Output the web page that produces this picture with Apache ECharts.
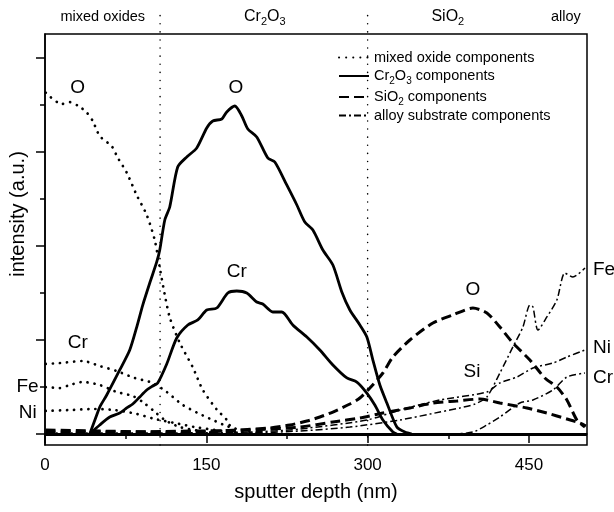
<!DOCTYPE html>
<html><head><meta charset="utf-8">
<script src="https://cdn.jsdelivr.net/npm/echarts@6/dist/echarts.min.js"></script>
<style>html,body{margin:0;padding:0;background:#fff}#c{width:614px;height:512px}</style>
</head><body><div id="c"></div>
<script>
// ---- data (depth in nm, intensity in a.u.) ----
const mixO_x = [0.7,4.4,15.5,23.0,32.3,38.8,44.4,50.9,62.1,67.6,76.0,85.3,94.6,102.1,106.7,111.4,116.0,125.3,137.4,146.7,159.7,169.0,174.6];
const mixO_y = [3.63,3.59,3.51,3.53,3.48,3.42,3.33,3.17,3.06,2.94,2.78,2.54,2.33,2.06,1.77,1.48,1.24,0.97,0.71,0.47,0.26,0.15,0.02];
const mixCr_x = [0.7,13.7,35.1,50.9,66.7,83.4,100.2,113.2,128.1,143.9,156.0,169.0,185.8,199.7];
const mixCr_y = [0.745,0.755,0.777,0.723,0.670,0.596,0.543,0.447,0.309,0.213,0.149,0.085,0.032,0.011];
const mixFe_x = [0.7,13.7,23.0,35.1,50.9,66.7,81.6,90.9,100.2,111.4,125.3,143.9,157.9];
const mixFe_y = [0.500,0.489,0.521,0.553,0.521,0.447,0.404,0.340,0.255,0.149,0.074,0.032,0.011];
const mixNi_x = [0.7,23.0,46.2,64.8,85.3,102.1,120.7,139.3,157.9,176.5,190.4];
const mixNi_y = [0.245,0.255,0.266,0.255,0.213,0.160,0.117,0.074,0.043,0.021,0.011];

const cr2o3O_x = [41.6,48.1,50.9,57.4,69.5,78.8,85.3,90.9,97.4,103.9,106.7,111.4,116.0,123.4,131.8,141.1,150.4,156.0,164.4,169.0,176.5,183.0,188.6,196.9,207.2,213.7,224.8,234.2,241.6,249.1,258.4,267.7,276.0,283.5,292.8,299.3,304.9,311.4,317.9,327.2,334.7,341.1];
const cr2o3O_y = [0,0.202,0.287,0.415,0.681,0.894,1.138,1.372,1.606,1.830,1.957,2.277,2.415,2.840,2.947,3.043,3.255,3.330,3.351,3.426,3.489,3.383,3.245,3.160,2.936,2.894,2.649,2.436,2.255,2.170,1.957,1.798,1.511,1.319,1.160,1.032,0.787,0.521,0.330,0.074,0.021,0];
const cr2o3Cr_x = [41.6,50.9,60.2,69.5,76.0,81.6,88.1,94.6,100.2,104.8,113.2,122.5,132.8,142.1,150.4,159.7,170.0,178.3,187.6,196.9,202.5,211.8,220.2,230.4,243.5,255.6,267.7,280.7,290.0,299.3,306.7,314.2,323.5,327.2];
const cr2o3Cr_y = [0,0.096,0.181,0.223,0.277,0.319,0.394,0.468,0.511,0.543,0.745,1.021,1.160,1.213,1.319,1.340,1.500,1.521,1.500,1.404,1.383,1.298,1.298,1.160,1.032,0.894,0.734,0.596,0.553,0.436,0.309,0.149,0.021,0];

const sio2O_x = [0.7,50.9,97.4,143.9,181.1,209.0,227.7,243.5,255.6,267.7,283.5,292.8,302.1,314.2,323.5,339.3,360.7,379.3,397.9,410.9,423.0,435.1,450.9,464.8,476.0,485.3,494.6,502.1];
const sio2O_y = [0.043,0.032,0.021,0.021,0.043,0.064,0.096,0.138,0.181,0.234,0.319,0.383,0.489,0.649,0.819,1.000,1.181,1.266,1.340,1.287,1.138,0.968,0.787,0.596,0.500,0.362,0.149,0.074];
const sio2Si_x = [0.7,50.9,143.9,190.4,236.9,267.7,292.8,314.2,339.3,360.7,383.0,404.4,423.0,448.1,466.7,485.3,497.4,503.0];
const sio2Si_y = [0.021,0.021,0.032,0.043,0.074,0.128,0.170,0.223,0.277,0.330,0.351,0.372,0.330,0.277,0.223,0.160,0.117,0.085];

const alloyFe_x = [0.7,97.4,190.4,236.9,283.5,330.0,367.2,385.8,399.8,410.9,423.0,435.1,444.4,450.9,453.7,458.4,466.7,476.0,483.4,490.9,502.1];
const alloyFe_y = [0,0,0.011,0.032,0.074,0.149,0.234,0.277,0.319,0.394,0.649,0.926,1.138,1.372,1.351,1.106,1.245,1.426,1.713,1.670,1.766];
const alloyNi_x = [0.7,97.4,190.4,236.9,299.3,330.0,367.2,410.9,423.0,438.8,453.7,472.3,485.3,502.1];
const alloyNi_y = [0.011,0.011,0.021,0.053,0.149,0.255,0.362,0.447,0.543,0.606,0.702,0.755,0.819,0.894];
const alloyCr_x = [0.7,236.9,376.5,397.9,410.9,423.0,441.6,453.7,472.3,485.3,502.1];
const alloyCr_y = [0,0,0,0.021,0.096,0.181,0.330,0.362,0.468,0.606,0.649];

const boundaries = [107, 300];           // layer boundaries (nm)
const xTickLabels = [0, 150, 300, 450];
const xMinorTicks = [75, 225, 375];
const yMajorTicks = [0, 1, 2, 3, 4];
const yMinorTicks = [0.5, 1.5, 2.5, 3.5];
const legendNames = ['mixed oxide components', 'Cr2O3 components', 'SiO2 components', 'alloy substrate components'];
const legendRich = {
  'mixed oxide components': '{n|mixed oxide components}',
  'Cr2O3 components': '{n|Cr}{s|2}{n|O}{s|3}{n| components}',
  'SiO2 components': '{n|SiO}{s|2}{n| components}',
  'alloy substrate components': '{n|alloy substrate components}'
};
// labels: [text, x (nm), y (a.u.), align]
const curveLabels = [
  ['O', 30.4, 3.68, 'center'], ['O', 177.4, 3.68, 'center'], ['Cr', 178.3, 1.73, 'center'],
  ['Cr', 30.4, 0.97, 'center'], ['Fe', -5.9, 0.50, 'right'], ['Ni', -7.7, 0.23, 'right'],
  ['O', 397.9, 1.53, 'center'], ['Si', 397.0, 0.66, 'center'],
  ['Fe', 509.5, 1.745, 'left'], ['Ni', 509.5, 0.915, 'left'], ['Cr', 509.5, 0.596, 'left']
];
const regionLabels = [
  ['{n|mixed oxides}', 53.7], ['{b|Cr}{t|2}{b|O}{t|3}', 204.4], ['{b|SiO}{t|2}', 374.6], ['{n|alloy}', 484.4]
];
const regionLabelY = 4.44;

const FONT = '"Liberation Sans", Arial, sans-serif';
const XMIN = 0, XMAX = 504, YMIN = -0.117, YMAX = 4.255, YTOP = 4.53;

function pairs(xs, ys) { return xs.map((x, i) => [x, ys[i]]); }

const styles = {
  'mixed oxide components': { color: '#000', width: 2.7, type: [0.1, 7], cap: 'round' },
  'Cr2O3 components': { color: '#000', width: 2.8, type: 'solid' },
  'SiO2 components': { color: '#000', width: 3, type: [10, 5] },
  'alloy substrate components': { color: '#000', width: 1.5, type: [7, 3, 2, 3] }
};
function mk(name, xs, ys, extra) {
  return Object.assign({
    type: 'line', name: name, data: pairs(xs, ys), xAxisIndex: 0, yAxisIndex: 0,
    showSymbol: false, symbol: 'none', smooth: 0.25, color: '#000',
    lineStyle: styles[name], emphasis: { disabled: true }, silent: true
  }, extra || {});
}

const series = [
  mk(legendNames[0], mixO_x, mixO_y),
  mk(legendNames[0], mixCr_x, mixCr_y),
  mk(legendNames[0], mixFe_x, mixFe_y),
  mk(legendNames[0], mixNi_x, mixNi_y),
  mk(legendNames[1], cr2o3O_x, cr2o3O_y, {
    markLine: { symbol: 'none', silent: true, animation: false, label: { show: false },
      lineStyle: { color: '#000', width: 3, type: 'solid' }, data: [{ yAxis: 0 }] }
  }),
  mk(legendNames[1], cr2o3Cr_x, cr2o3Cr_y),
  mk(legendNames[2], sio2O_x, sio2O_y),
  mk(legendNames[2], sio2Si_x, sio2Si_y),
  mk(legendNames[3], alloyFe_x, alloyFe_y),
  mk(legendNames[3], alloyNi_x, alloyNi_y),
  mk(legendNames[3], alloyCr_x, alloyCr_y)
];
boundaries.forEach((b, i) => {
  series.push({
    type: 'line', name: 'boundary' + i, data: [[b, YMIN], [b, YTOP]], clip: false,
    showSymbol: false, symbol: 'none', silent: true, color: '#000',
    lineStyle: { color: '#000', width: 1.5, type: [0.1, 8], cap: 'round' }
  });
});

const richText = {
  n: { fontSize: 14.5, fontFamily: FONT, lineHeight: 20, color: '#000' },
  s: { fontSize: 10, fontFamily: FONT, lineHeight: 10, padding: [10, 0, 0, 0], color: '#000' }
};

const option = {
  animation: false,
  backgroundColor: '#fff',
  textStyle: { fontFamily: FONT },
  grid: { left: 45, right: 27, top: 34, bottom: 67, show: true, borderColor: '#000', borderWidth: 1.5,
          containLabel: false, outerBoundsMode: 'none' },
  legend: {
    orient: 'vertical', left: 333, top: 45, itemWidth: 30, itemHeight: 14, itemGap: 1,
    data: legendNames, selectedMode: false, itemStyle: { opacity: 0 },
    textStyle: { color: '#000', fontSize: 14.5, fontFamily: FONT, rich: richText },
    formatter: n => legendRich[n]
  },
  xAxis: [{
    type: 'value', min: XMIN, max: XMAX,
    name: 'sputter depth (nm)', nameLocation: 'middle', nameGap: 37,
    nameTextStyle: { fontSize: 20, color: '#000', fontFamily: FONT },
    axisLine: { show: true, lineStyle: { color: '#000', width: 1.5 } },
    axisTick: { show: true, length: 9, customValues: xTickLabels, lineStyle: { color: '#000', width: 1.5 } },
    axisLabel: { show: true, customValues: xTickLabels, fontSize: 17, color: '#000', margin: 12, fontFamily: FONT },
    splitLine: { show: false }
  }, {
    type: 'value', min: XMIN, max: XMAX, position: 'bottom', offset: 0,
    axisLine: { show: false },
    axisTick: { show: true, length: 5, customValues: xMinorTicks, lineStyle: { color: '#000', width: 1.5 } },
    axisLabel: { show: false }, splitLine: { show: false }
  }],
  yAxis: [{
    type: 'value', min: YMIN, max: YMAX,
    axisLine: { show: true, lineStyle: { color: '#000', width: 1.5 } },
    axisTick: { show: true, length: 9, customValues: yMajorTicks, lineStyle: { color: '#000', width: 1.5 } },
    axisLabel: { show: false }, splitLine: { show: false }
  }, {
    type: 'value', min: YMIN, max: YMAX, position: 'left', offset: 0,
    axisLine: { show: false },
    axisTick: { show: true, length: 5, customValues: yMinorTicks, lineStyle: { color: '#000', width: 1.5 } },
    axisLabel: { show: false }, splitLine: { show: false }
  }],
  series: series
};

const chart = echarts.init(document.getElementById('c'), null, { renderer: 'canvas' });
chart.setOption(option);

const toPx = (x, y) => chart.convertToPixel({ xAxisIndex: 0, yAxisIndex: 0 }, [x, y]);
const graphics = [];
curveLabels.forEach(l => {
  const p = toPx(l[1], l[2]);
  graphics.push({ type: 'text', x: p[0], y: p[1], silent: true,
    style: { text: l[0], fill: '#000', font: '19px ' + FONT, align: l[3], verticalAlign: 'middle' } });
});
const zrRich = {
  n: { fontSize: 14.5, fontFamily: FONT, lineHeight: 20, fill: '#000' },
  b: { fontSize: 16, fontFamily: FONT, lineHeight: 20, fill: '#000' },
  t: { fontSize: 11, fontFamily: FONT, lineHeight: 11, padding: [10, 0, 0, 0], fill: '#000' }
};
regionLabels.forEach(l => {
  const p = toPx(l[1], regionLabelY);
  graphics.push({ type: 'text', x: p[0], y: p[1], silent: true,
    style: { text: l[0], rich: zrRich, fill: '#000', font: '14.5px ' + FONT, align: 'center', verticalAlign: 'middle' } });
});
graphics.push({ type: 'text', x: 18, y: 214, rotation: Math.PI / 2, silent: true,
  style: { text: 'intensity (a.u.)', fill: '#000', font: '20px ' + FONT, align: 'center', verticalAlign: 'middle' } });
chart.setOption({ graphic: graphics });
</script></body></html>
